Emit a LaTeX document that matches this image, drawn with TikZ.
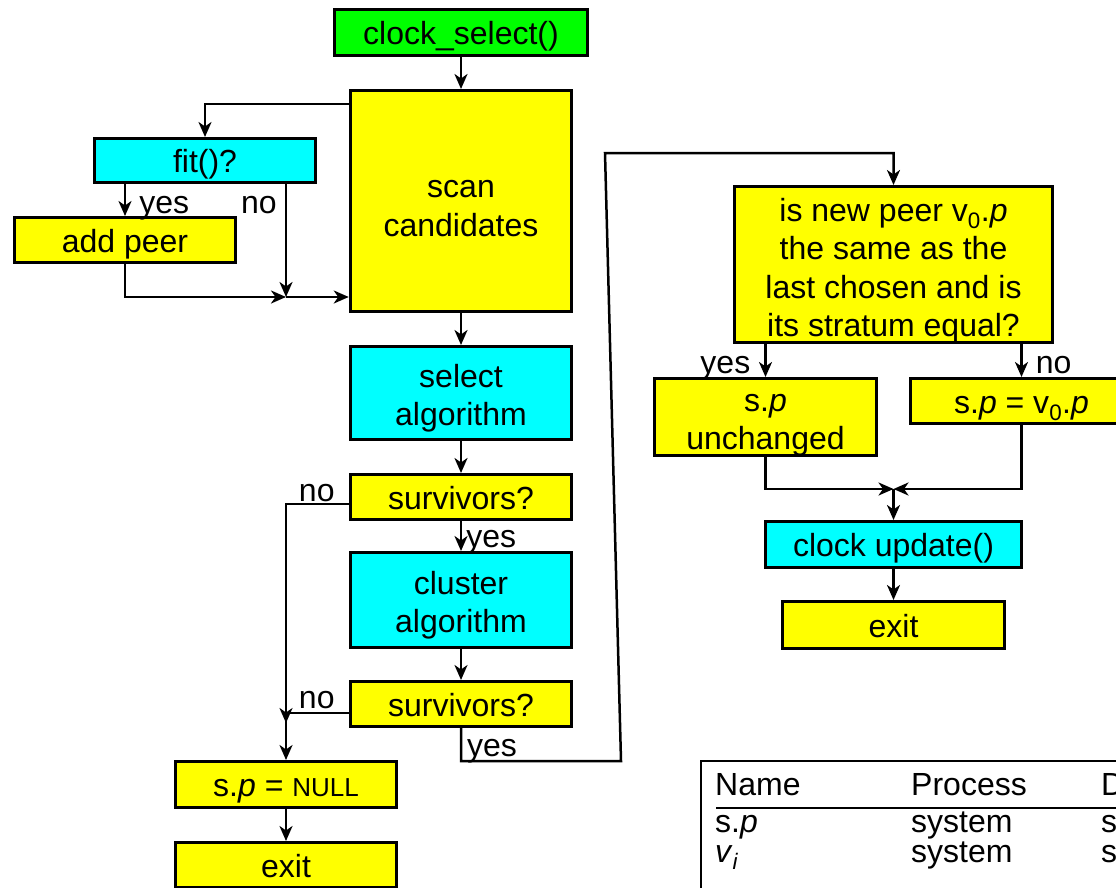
\documentclass[tikz,border=0pt]{standalone}
\usepackage{fontspec}
\setmainfont{Liberation Sans}
\usepackage{tikz}
\usetikzlibrary{arrows.meta}
\definecolor{flowyellow}{RGB}{255,255,0}
\definecolor{flowcyan}{RGB}{0,255,255}
\definecolor{flowgreen}{RGB}{0,255,0}
\newcommand{\flowfont}{\fontsize{32pt}{38.5pt}\selectfont}
\tikzstyle{line} = [draw, line width=2.5pt]
\tikzstyle{box} = [draw, line width=3pt, inner sep=0pt, align=center, font=\flowfont, minimum width=221.5pt, minimum height=45pt,
  text height=32pt, text depth=8pt]
\tikzstyle{twolines} = [text height=71pt, text depth=6pt]
\tikzstyle{fourlines} = [text height=150pt, text depth=6pt]
\tikzstyle{proc} = [box, fill=flowyellow]
\tikzstyle{algo} = [box, fill=flowcyan]
\tikzstyle{entry} = [box, fill=flowgreen]
\tikzstyle{tag} = [inner sep=0pt, font=\flowfont]
\tikzstyle{cell} = [inner sep=0pt, font=\flowfont, anchor=base west]
\tikzstyle{rule} = [draw, line width=2pt]

\begin{document}
\begin{tikzpicture}[x=1pt, y=-1pt, >={Stealth[length=15pt,width=13pt,inset=4.5pt]}]
\useasboundingbox (0,0) rectangle (1116,888);
\clip (0,0) rectangle (1116,888);

% main column
\node (cs) [entry, minimum width=253pt, minimum height=46pt] at (461,32.5) {clock\_select()};
\node (scan) [proc, twolines, text height=76pt, node distance=168.5pt, below of=cs, minimum height=221pt] {scan\\candidates};
\node (select) [algo, twolines, node distance=192pt, below of=scan, minimum height=93pt] {select\\algorithm};
\node (surv1) [proc, node distance=104pt, below of=select] {survivors?};
\node (cluster) [algo, twolines, node distance=103pt, below of=surv1, minimum height=95pt] {cluster\\algorithm};
\node (surv2) [proc, node distance=104pt, below of=cluster] {survivors?};

% side boxes
\node (fit) [algo, node distance=256pt, left of=scan, yshift=40.5pt, minimum height=44pt] {fit()?};
\node (addpeer) [proc, node distance=79.5pt, below of=fit, xshift=-80pt] {add peer};
\node (spnull) [proc, node distance=80.5pt, below of=surv2, xshift=-175pt, minimum height=46pt]
  {s.\textit{p} = {\fontsize{26pt}{30pt}\selectfont NULL}};
\node (exit1) [proc, node distance=80.5pt, below of=spnull] {exit};

% right part
\node (dec) [proc, fourlines, minimum width=318pt, minimum height=156pt] at (893.5,264.5)
  {is new peer v\textsubscript{0}.\textit{p}\\the same as the\\last chosen and is\\its stratum equal?};
\node (unch) [proc, twolines, node distance=152.5pt, below of=dec, xshift=-128pt, minimum height=77pt] {s.\textit{p}\\unchanged};
\node (newp) [proc, node distance=136.5pt, below of=dec, xshift=128pt] {s.\textit{p} = v\textsubscript{0}.\textit{p}};
\node (upd) [algo, node distance=280pt, below of=dec, minimum width=256pt, minimum height=46pt] {clock update()};
\node (exit2) [proc, node distance=80.5pt, below of=upd, minimum height=47pt] {exit};

% joints
\coordinate (fitin) at ([yshift=-15pt]scan.north west);
\coordinate (merge) at (286,297);
\coordinate (nojoin) at ([yshift=-9pt]surv2.west -| merge);
\coordinate (back1) at (621,761);
\coordinate (back2) at (605,153);
\coordinate (rejoin) at (893.5,489);

% edges
\draw[line,->] (cs) -- (scan);
\draw[line,->] (fitin) -| (fit);
\draw[line,->] (fit.south -| addpeer.north) -- node[tag, right=13pt, yshift=-8pt] {yes} (addpeer.north);
\draw[line,->] (fit.south -| merge) -- node[tag, pos=0.19, left=8pt] {no} (merge);
\draw[line,->] (addpeer) |- (merge);
\draw[line,->] (merge) -- (merge -| scan.west);
\draw[line,->] (scan) -- (select);
\draw[line,->] (select) -- (surv1);
\draw[line,->] (surv1) -- node[tag, right=4pt, yshift=-6pt] {yes} (cluster);
\draw[line,->] (cluster) -- (surv2);
\draw[line,->] ([yshift=-7pt]surv1.west) -| ([yshift=-10pt]nojoin);
\node (no1) [tag, anchor=base east] at ([xshift=-14pt,yshift=-4pt]surv1.west) {no};
\draw[line] ([yshift=-9pt]surv2.west) -- (nojoin);
\node (no2) [tag, anchor=base east] at ([xshift=-14pt,yshift=-4pt]surv2.west) {no};
\draw[line,->] (nojoin) -- (nojoin |- spnull.north);
\draw[line,->] (spnull) -- (exit1);
\draw[line,->] (surv2) |- (back1) -- (back2) -| (dec);
\node (yes3) [tag, anchor=west] at ([xshift=6pt,yshift=-23pt]surv2.south) {yes};
\draw[line,->] (dec.south -| unch.north) -- node[tag, left=14pt, yshift=-8pt] {yes} (unch.north);
\draw[line,->] (dec.south -| newp.north) -- node[tag, right=13pt, yshift=-5pt] {no} (newp.north);
\draw[line,->] (unch) |- (rejoin);
\draw[line,->] (newp) |- (rejoin);
\draw[line,->] (rejoin) -- (upd);
\draw[line,->] (upd) -- (exit2);

% table
\draw[rule] (701,761) rectangle (1300,1000);
\draw[rule] (716,808) -- (1300,808);
\node (tname) [cell] at (715,795) {Name};
\node (tproc) [cell] at (911,795) {Process};
\node (tdesc) [cell] at (1101,795) {D};
\node (rsp) [cell] at (715,832) {s.\textit{p}};
\node (rspproc) [cell] at (911,832) {system};
\node (rspdesc) [cell] at (1101,832) {s};
\node (rv) [cell] at (715,862) {\textit{v}\textsubscript{\textit{i}}};
\node (rvproc) [cell] at (911,862) {system};
\node (rvdesc) [cell] at (1101,862) {s};

\end{tikzpicture}
\end{document}
